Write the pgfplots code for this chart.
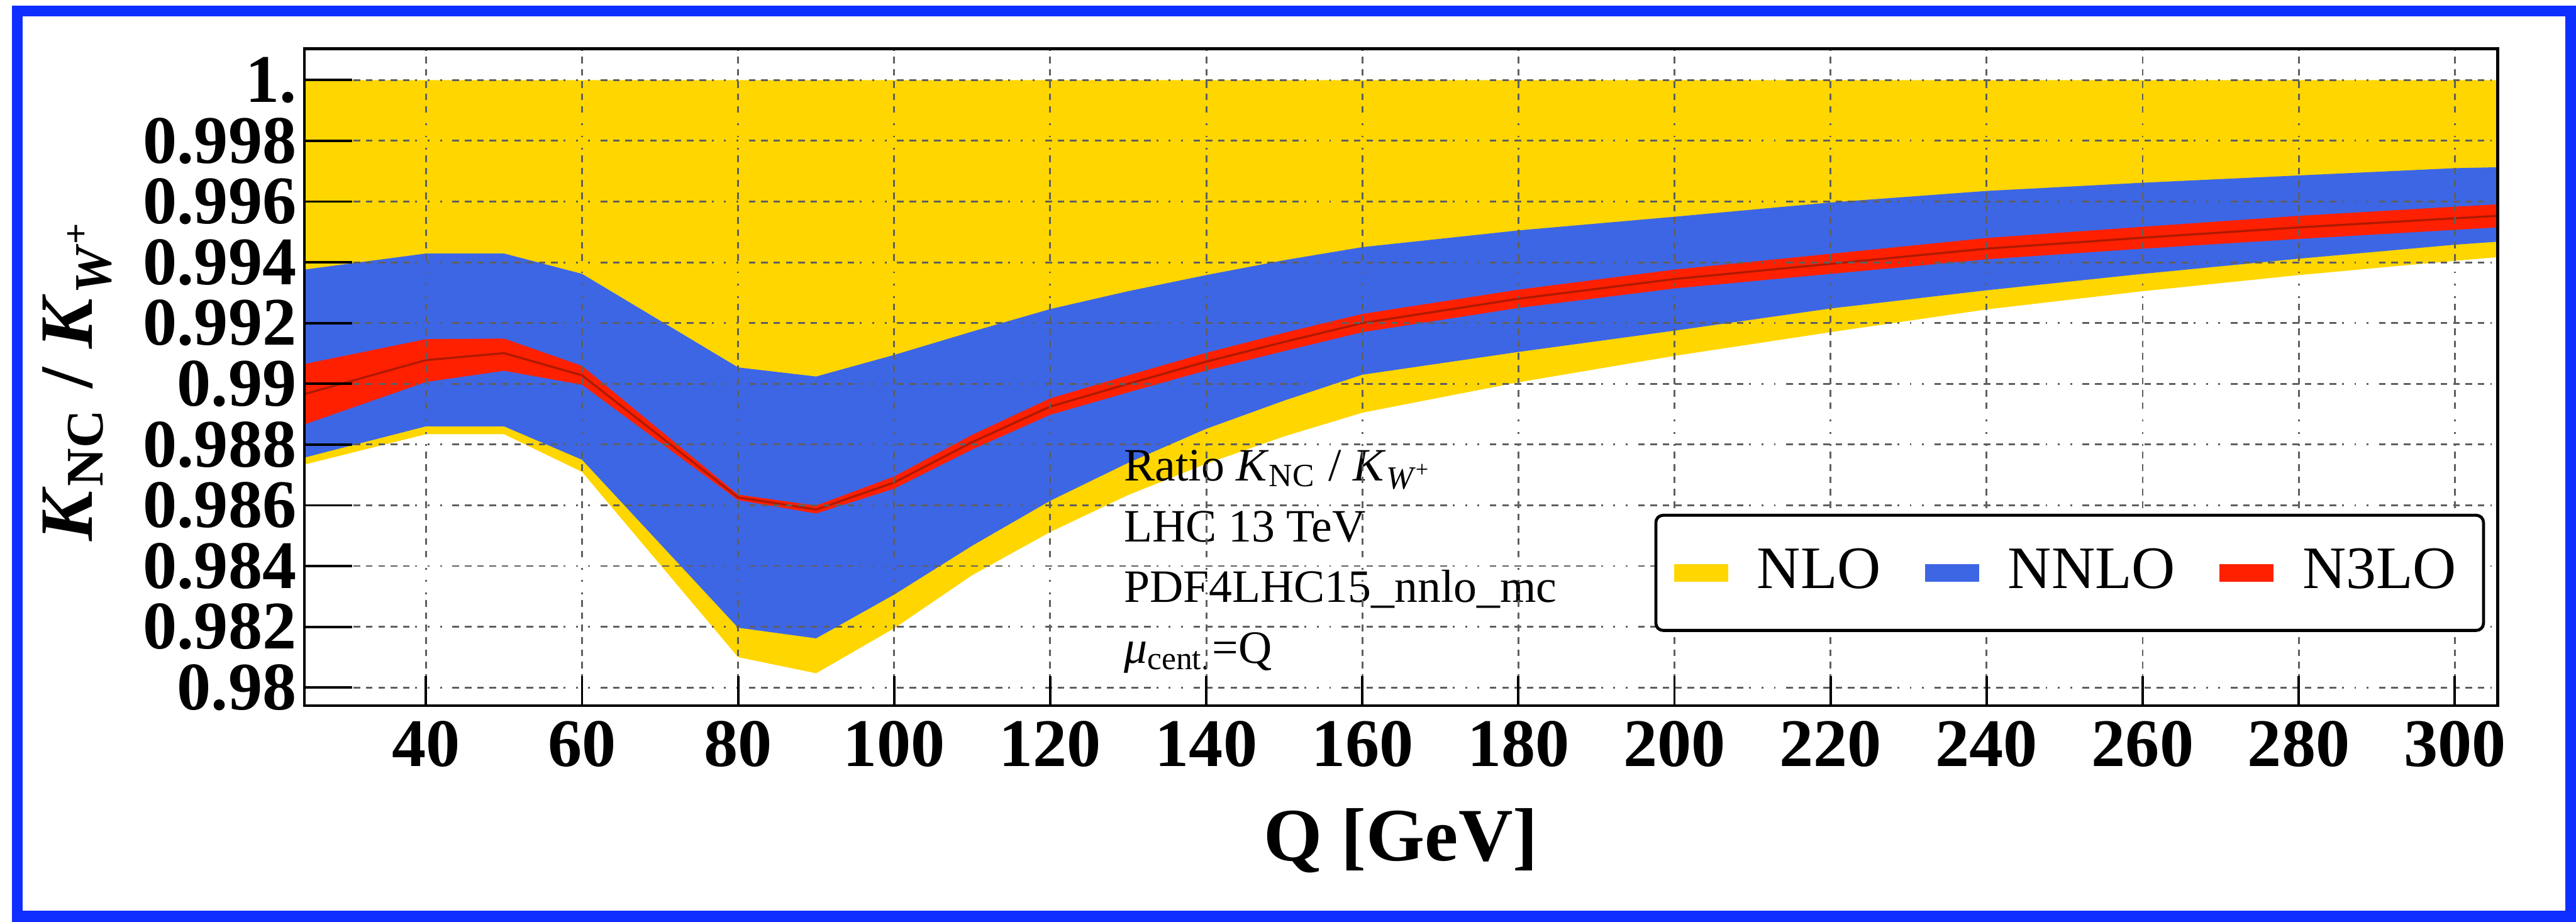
\documentclass[border=0pt]{standalone}
\usepackage{fontspec}
\setmainfont{Liberation Serif}
\usepackage{pgfplots}
\pgfplotsset{compat=1.18}
\usepackage{pgfplotstable}
\usepgfplotslibrary{fillbetween}

\definecolor{nlocol}{RGB}{255,214,0}
\definecolor{nnlocol}{RGB}{61,102,229}
\definecolor{nnnlocol}{RGB}{255,32,0}
\definecolor{centcol}{RGB}{175,25,0}
\definecolor{framecol}{RGB}{13,46,255}
\definecolor{gridcol}{RGB}{95,95,95}

% Q, NLO band, NNLO band, N3LO band (low, central, high)
\pgfplotstableread{
x     nlolo   nlohi  nnlolo  nnlohi  nnnlolo nnnlo   nnnlohi
24.4  0.98734 1.0    0.98757 0.99376 0.98866 0.98966 0.99065
40    0.98834 1.0    0.98860 0.99429 0.99006 0.99078 0.99147
50    0.98834 1.0    0.98860 0.99429 0.99043 0.99101 0.99149
60    0.98710 1.0    0.98750 0.99362 0.98997 0.99028 0.99059
80    0.98100 1.0    0.98197 0.99054 0.98617 0.98626 0.98635
90    0.98047 1.0    0.98162 0.99024 0.98573 0.98586 0.98599
100   0.98195 1.0    0.98306 0.99095 0.98655 0.98675 0.98695
110   0.98370 1.0    0.98467 0.99172 0.98784 0.98808 0.98832
120   0.98512 1.0    0.98615 0.99246 0.98898 0.98925 0.98952
130   0.98634 1.0    0.98740 0.99305 0.98972 0.99000 0.99028
140   0.98737 1.0    0.98852 0.99358 0.99044 0.99073 0.99102
150   0.98827 1.0    0.98945 0.99407 0.99108 0.99138 0.99168
160   0.98905 1.0    0.99030 0.99450 0.99170 0.99200 0.99230
180   0.99005 1.0    0.99105 0.99505 0.99250 0.99280 0.99310
200   0.99092 1.0    0.99175 0.99550 0.99314 0.99345 0.99376
220   0.99170 1.0    0.99248 0.99597 0.99362 0.99395 0.99428
240   0.99245 1.0    0.99308 0.99635 0.99410 0.99445 0.99480
260   0.99305 1.0    0.99362 0.99662 0.99445 0.99481 0.99517
280   0.99358 1.0    0.99412 0.99686 0.99477 0.99515 0.99553
300   0.99405 1.0    0.99458 0.99710 0.99507 0.99545 0.99583
305.5 0.99417 1.0    0.99468 0.99713 0.99515 0.99553 0.99591
}\ratiodata

\tikzset{
  mmagrid/.style={
    gridcol, line width=0.3bp,
    dash pattern=on 1.1bp off 0.95bp on 1.1bp off 0.95bp on 1.1bp off 0.95bp
                 on 1.1bp off 0.95bp on 1.1bp off 0.95bp on 1.1bp off 0.95bp
                 on 1.1bp off 0.95bp on 1.1bp off 0.95bp on 1.1bp off 0.95bp
                 on 0.3bp off 1.75bp on 0.3bp off 1.75bp on 0.3bp off 1.75bp
  }
}

\begin{document}
\begin{tikzpicture}
\path (0,0) rectangle (427.6bp,153bp);
\draw[framecol, line width=1.8bp] (2.9bp,0.9bp) rectangle (426.7bp,151.2bp);
\begin{axis}[
  at={(50.5bp,35.9bp)}, anchor=south west,
  scale only axis, width=364.1bp, height=109bp,
  xmin=24.4, xmax=305.5, ymin=0.97941, ymax=1.00103,
  set layers=axis on top,
  grid=major,
  grid style={mmagrid, /pgfplots/on layer=axis background},
  axis line style={black, line width=0.45bp},
  tick style={black, line width=0.4bp},
  tick align=inside,
  xtick pos=bottom, ytick pos=left,
  major tick length=8bp,
  xtick style={/pgfplots/major tick length=4.9bp},
  xtick={40,60,80,100,120,140,160,180,200,220,240,260,280,300},
  xticklabels={40,60,80,100,120,140,160,180,200,220,240,260,280,300},
  ytick={0.98,0.982,0.984,0.986,0.988,0.99,0.992,0.994,0.996,0.998,1},
  yticklabels={0.98,0.982,0.984,0.986,0.988,0.99,0.992,0.994,0.996,0.998,1.},
  /pgf/number format/assume math mode=true,
  ticklabel style={font=\fontsize{11.3bp}{13bp}\selectfont\bfseries},
  xticklabel style={anchor=north, inner sep=0pt, yshift=-2.4bp},
  yticklabel style={anchor=east, inner sep=0pt, xshift=-1.1bp},
  xlabel={\textbf{Q [GeV]}},
  xlabel style={at={(axis description cs:0.5,0)}, anchor=center, yshift=-22.4bp,
                font=\fontsize{12.5bp}{15bp}\selectfont},
  ylabel={\textbf{\textit{K}\textsubscript{NC} / \textit{K}\textsubscript{\textit{W}\textsuperscript{+}}}},
  ylabel style={at={(axis description cs:-0.1035,0.497)}, anchor=center,
                font=\fontsize{12.5bp}{15bp}\selectfont},
  legend columns=3,
  legend cell align=left,
  legend style={at={(0.9942,0.112)}, anchor=south east,
                draw=black, line width=0.5bp, rounded corners=1.2bp,
                fill=white,
                font=\fontsize{10bp}{12bp}\selectfont,
                inner xsep=3bp, inner ysep=4bp,
                nodes={inner sep=1.5bp},
                /tikz/every odd column/.append style={column sep=3.3bp},
                /tikz/every even column/.append style={column sep=5.8bp}},
]
% NLO band
\addplot[name path=nloL, draw=none, forget plot] table[x=x, y=nlolo] {\ratiodata};
\addplot[name path=nloH, draw=none, forget plot] table[x=x, y=nlohi] {\ratiodata};
\addplot[fill=nlocol, draw=none, forget plot] fill between[of=nloL and nloH];
% NNLO band
\addplot[name path=nnloL, draw=none, forget plot] table[x=x, y=nnlolo] {\ratiodata};
\addplot[name path=nnloH, draw=none, forget plot] table[x=x, y=nnlohi] {\ratiodata};
\addplot[fill=nnlocol, draw=none, forget plot] fill between[of=nnloL and nnloH];
% N3LO band and central value
\addplot[name path=nnnloL, draw=none, forget plot] table[x=x, y=nnnlolo] {\ratiodata};
\addplot[name path=nnnloH, draw=none, forget plot] table[x=x, y=nnnlohi] {\ratiodata};
\addplot[fill=nnnlocol, draw=none, forget plot] fill between[of=nnnloL and nnnloH];
\addplot[centcol, line width=0.35bp, forget plot] table[x=x, y=nnnlo] {\ratiodata};

\addlegendimage{legend image code/.code={\fill[nlocol, sharp corners] (0bp,-1.2bp) rectangle (8.5bp,1.2bp);}}
\addlegendentry{NLO}
\addlegendimage{legend image code/.code={\fill[nnlocol, sharp corners] (0bp,-1.2bp) rectangle (8.5bp,1.2bp);}}
\addlegendentry{NNLO}
\addlegendimage{legend image code/.code={\fill[nnnlocol, sharp corners] (0bp,-1.2bp) rectangle (8.5bp,1.2bp);}}
\addlegendentry{N3LO}

\node[anchor=north west, inner sep=0pt, align=left,
      font=\fontsize{7.7bp}{10.1bp}\selectfont]
  at (axis cs:129.3,0.98786)
  {Ratio \textit{K}\textsubscript{NC} / \textit{K}\textsubscript{\textit{W}\textsuperscript{+}}\\
   LHC 13 TeV\\
   PDF4LHC15\_nnlo\_mc\\
   \textit{μ}\textsubscript{cent.}=Q};
\end{axis}
\end{tikzpicture}
\end{document}
